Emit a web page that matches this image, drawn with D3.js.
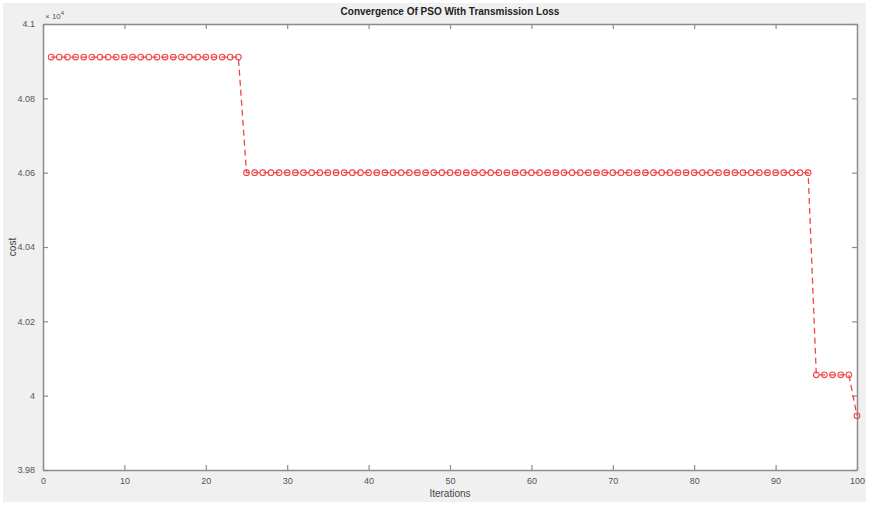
<!DOCTYPE html>
<html>
<head>
<meta charset="utf-8">
<script src="https://cdn.jsdelivr.net/npm/d3@7"></script>
<style>
  html, body { margin: 0; padding: 0; background: #fff; }
</style>
</head>
<body>
<div id="chart"></div>
<script>
// cost value per iteration (piecewise constant)
const stepStart = [1, 25, 95, 100];
const stepEnd = [24, 94, 99, 100];
const stepCost = [40911, 40600, 40056, 39946];
const xTicks = [0, 10, 20, 30, 40, 50, 60, 70, 80, 90, 100];
const yTicks = [39800, 40000, 40200, 40400, 40600, 40800, 41000];

const width = 869;
const height = 505;
const margin = { top: 24, right: 12, bottom: 35, left: 43 };

// expand the steps into one point per iteration
const points = [];
stepStart.forEach((s, i) => {
    for (let it = s; it <= stepEnd[i]; it++) points.push({ it: it, cost: stepCost[i] });
});

const svg = d3.select("#chart")
    .append("svg")
    .attr("width", width)
    .attr("height", height)
    .attr("font-family", "Helvetica, Arial, 'Liberation Sans', sans-serif");

// figure background
svg.append("rect")
    .attr("x", 3).attr("y", 3)
    .attr("width", width - 6).attr("height", height - 6)
    .attr("fill", "#f0f0f0");

const x = d3.scaleLinear().domain([0, 100]).range([margin.left, width - margin.right]);
const y = d3.scaleLinear().domain([39800, 41000]).range([height - margin.bottom, margin.top]);

// axes area
svg.append("rect")
    .attr("x", x(0)).attr("y", y(41000))
    .attr("width", x(100) - x(0)).attr("height", y(39800) - y(41000))
    .attr("fill", "#fff");

const axisColor = "#8c8c8c";
const fmt = d => d3.format("~g")(d / 1e4);

const xBottom = svg.append("g")
    .attr("transform", `translate(0,${y(39800)})`)
    .call(d3.axisBottom(x).tickValues(xTicks).tickSizeInner(-5).tickSizeOuter(0).tickPadding(8));
const xTop = svg.append("g")
    .attr("transform", `translate(0,${y(41000)})`)
    .call(d3.axisTop(x).tickValues(xTicks).tickSizeInner(-5).tickSizeOuter(0).tickFormat(""));
const yLeft = svg.append("g")
    .attr("transform", `translate(${x(0)},0)`)
    .call(d3.axisLeft(y).tickValues(yTicks).tickSizeInner(-5).tickSizeOuter(0).tickPadding(8).tickFormat(fmt));
const yRight = svg.append("g")
    .attr("transform", `translate(${x(100)},0)`)
    .call(d3.axisRight(y).tickValues(yTicks).tickSizeInner(-5).tickSizeOuter(0).tickFormat(""));

[xBottom, xTop, yLeft, yRight].forEach(g => {
    g.select(".domain").attr("stroke", axisColor).attr("stroke-width", 1.5);
    g.selectAll(".tick line").attr("stroke", axisColor).attr("stroke-width", 1.2);
    g.selectAll(".tick text").attr("fill", "#555").attr("font-size", 9);
});

// exponent label
const expo = svg.append("text")
    .attr("x", x(0) + 2).attr("y", y(41000) - 5)
    .attr("font-size", 8).attr("fill", "#555");
expo.append("tspan").text("\u00d7 10");
expo.append("tspan").attr("dy", -4).attr("font-size", 6).text("4");

// title and labels
svg.append("text")
    .attr("x", (x(0) + x(100)) / 2).attr("y", 15)
    .attr("text-anchor", "middle")
    .attr("font-size", 10).attr("font-weight", "bold").attr("fill", "#222")
    .text("Convergence Of PSO With Transmission Loss");

svg.append("text")
    .attr("x", (x(0) + x(100)) / 2).attr("y", 497)
    .attr("text-anchor", "middle")
    .attr("font-size", 10).attr("fill", "#444")
    .text("Iterations");

svg.append("text")
    .attr("transform", `translate(16,${(y(39800) + y(41000)) / 2}) rotate(-90)`)
    .attr("text-anchor", "middle")
    .attr("font-size", 10).attr("fill", "#444")
    .text("cost");

// line + markers
const line = d3.line().x(d => x(d.it)).y(d => y(d.cost));
svg.append("path")
    .datum(points)
    .attr("d", line)
    .attr("fill", "none")
    .attr("stroke", "#f0454a")
    .attr("stroke-width", 1.3)
    .attr("stroke-dasharray", "6,4");

svg.append("g")
    .selectAll("circle")
    .data(points)
    .join("circle")
    .attr("cx", d => x(d.it))
    .attr("cy", d => y(d.cost))
    .attr("r", 2.8)
    .attr("fill", "none")
    .attr("stroke", "#f0454a")
    .attr("stroke-width", 1.1);
</script>
</body>
</html>
